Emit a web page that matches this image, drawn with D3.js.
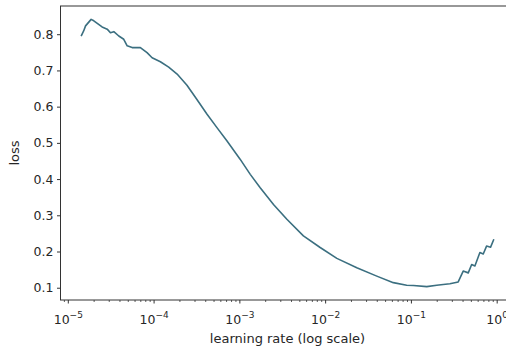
<!DOCTYPE html>
<html>
<head>
<meta charset="utf-8">
<script src="https://cdn.jsdelivr.net/npm/d3@7"></script>
<style>
  body { margin: 0; background: #fff; }
  text { font-family: "DejaVu Sans", sans-serif; fill: #262626; }
</style>
</head>
<body>
<svg id="chart"></svg>
<script>
var w = 506, h = 351;
var margin = { top: 6, left: 60.5, width: 454, height: 294 };

// learning rates (log x axis)
var lrs = [1.43e-5, 1.53e-5, 1.61e-5, 1.87e-5, 2.01e-5, 2.51e-5, 2.88e-5, 3.14e-5, 3.44e-5,
  3.93e-5, 4.49e-5, 4.92e-5, 5.62e-5, 7.01e-5, 8.39e-5, 9.61e-5, 1.20e-4, 1.50e-4, 1.88e-4,
  2.45e-4, 3.07e-4, 4.20e-4, 5.48e-4, 7.18e-4, 1.02e-3, 1.34e-3, 1.75e-3, 2.50e-3, 3.58e-3,
  5.58e-3, 8.75e-3, 1.37e-2, 2.34e-2, 4.00e-2, 6.24e-2, 8.93e-2, 0.107, 0.153, 0.200, 0.238,
  0.285, 0.356, 0.407, 0.466, 0.511, 0.557, 0.637, 0.697, 0.762, 0.849, 0.927];
// loss for each learning rate
var losses = [0.795, 0.809, 0.823, 0.841, 0.837, 0.820, 0.814, 0.804, 0.807,
  0.795, 0.786, 0.768, 0.763, 0.763, 0.749, 0.735, 0.724, 0.709, 0.690,
  0.659, 0.626, 0.579, 0.542, 0.505, 0.455, 0.413, 0.376, 0.330, 0.289,
  0.243, 0.211, 0.181, 0.155, 0.132, 0.114, 0.107, 0.106, 0.103, 0.107, 0.109,
  0.111, 0.116, 0.146, 0.141, 0.164, 0.160, 0.197, 0.193, 0.215, 0.212, 0.234];

var yTicks = [0.1, 0.2, 0.3, 0.4, 0.5, 0.6, 0.7, 0.8];
var xTicks = [1e-5, 1e-4, 1e-3, 1e-2, 1e-1, 1];
var xTickExp = ["\u22125", "\u22124", "\u22123", "\u22122", "\u22121", "0"];

var data = lrs.map(function(d, i) { return { lr: d, loss: losses[i] }; });

// matplotlib style 5% margins (log space on x)
var lx = d3.extent(lrs).map(Math.log10);
var padX = (lx[1] - lx[0]) * 0.05;
var ly = d3.extent(losses);
var padY = (ly[1] - ly[0]) * 0.05;

var x = d3.scaleLog()
  .domain([Math.pow(10, lx[0] - padX), Math.pow(10, lx[1] + padX)])
  .range([margin.left, margin.left + margin.width]);
var y = d3.scaleLinear()
  .domain([ly[0] - padY, ly[1] + padY])
  .range([margin.top + margin.height, margin.top]);

var svg = d3.select("#chart").attr("width", w).attr("height", h);

// line
var line = d3.line().x(d => x(d.lr)).y(d => y(d.loss));
svg.append("path")
  .datum(data)
  .attr("d", line)
  .attr("fill", "none")
  .attr("stroke", "#3b6f80")
  .attr("stroke-width", 1.6)
  .attr("stroke-linejoin", "round");

// spines
svg.append("rect")
  .attr("x", margin.left)
  .attr("y", margin.top)
  .attr("width", margin.width)
  .attr("height", margin.height)
  .attr("fill", "none")
  .attr("stroke", "#333")
  .attr("stroke-width", 1);

// y axis
var yAxis = svg.append("g")
  .attr("transform", "translate(" + margin.left + ",0)")
  .call(d3.axisLeft(y).tickValues(yTicks).tickSize(3.5).tickPadding(3.5).tickFormat(d3.format(".1f")));
yAxis.select(".domain").remove();
yAxis.selectAll("line").attr("stroke", "#333");
yAxis.selectAll("text").style("font-size", "12.5px").attr("fill", "#262626");

// x minor ticks
var minor = [];
for (var e = -6; e <= 0; e++) {
  for (var k = 2; k <= 9; k++) {
    var v = k * Math.pow(10, e);
    if (v > x.domain()[0] && v < x.domain()[1]) minor.push(v);
  }
}
var xMinor = svg.append("g")
  .attr("transform", "translate(0," + (margin.top + margin.height) + ")")
  .call(d3.axisBottom(x).tickValues(minor).tickSize(2).tickFormat(""));
xMinor.select(".domain").remove();
xMinor.selectAll("line").attr("stroke", "#333").attr("stroke-width", 0.8);

// x major ticks
var xAxis = svg.append("g")
  .attr("transform", "translate(0," + (margin.top + margin.height) + ")")
  .call(d3.axisBottom(x).tickValues(xTicks).tickSize(3.5).tickPadding(4).tickFormat(""));
xAxis.select(".domain").remove();
xAxis.selectAll("line").attr("stroke", "#333");

var xl = xAxis.selectAll(".tick").append("text")
  .attr("y", 24)
  .attr("text-anchor", "middle")
  .style("font-size", "12.5px");
xl.append("tspan").text("10");
xl.append("tspan")
  .attr("dy", -6)
  .style("font-size", "9px")
  .text((d, i) => xTickExp[i]);

// axis labels
svg.append("text")
  .attr("x", margin.left + margin.width / 2)
  .attr("y", 343)
  .attr("text-anchor", "middle")
  .style("font-size", "13px")
  .text("learning rate (log scale)");

svg.append("text")
  .attr("transform", "translate(19," + (margin.top + margin.height / 2) + ") rotate(-90)")
  .attr("text-anchor", "middle")
  .style("font-size", "13px")
  .text("loss");
</script>
</body>
</html>
